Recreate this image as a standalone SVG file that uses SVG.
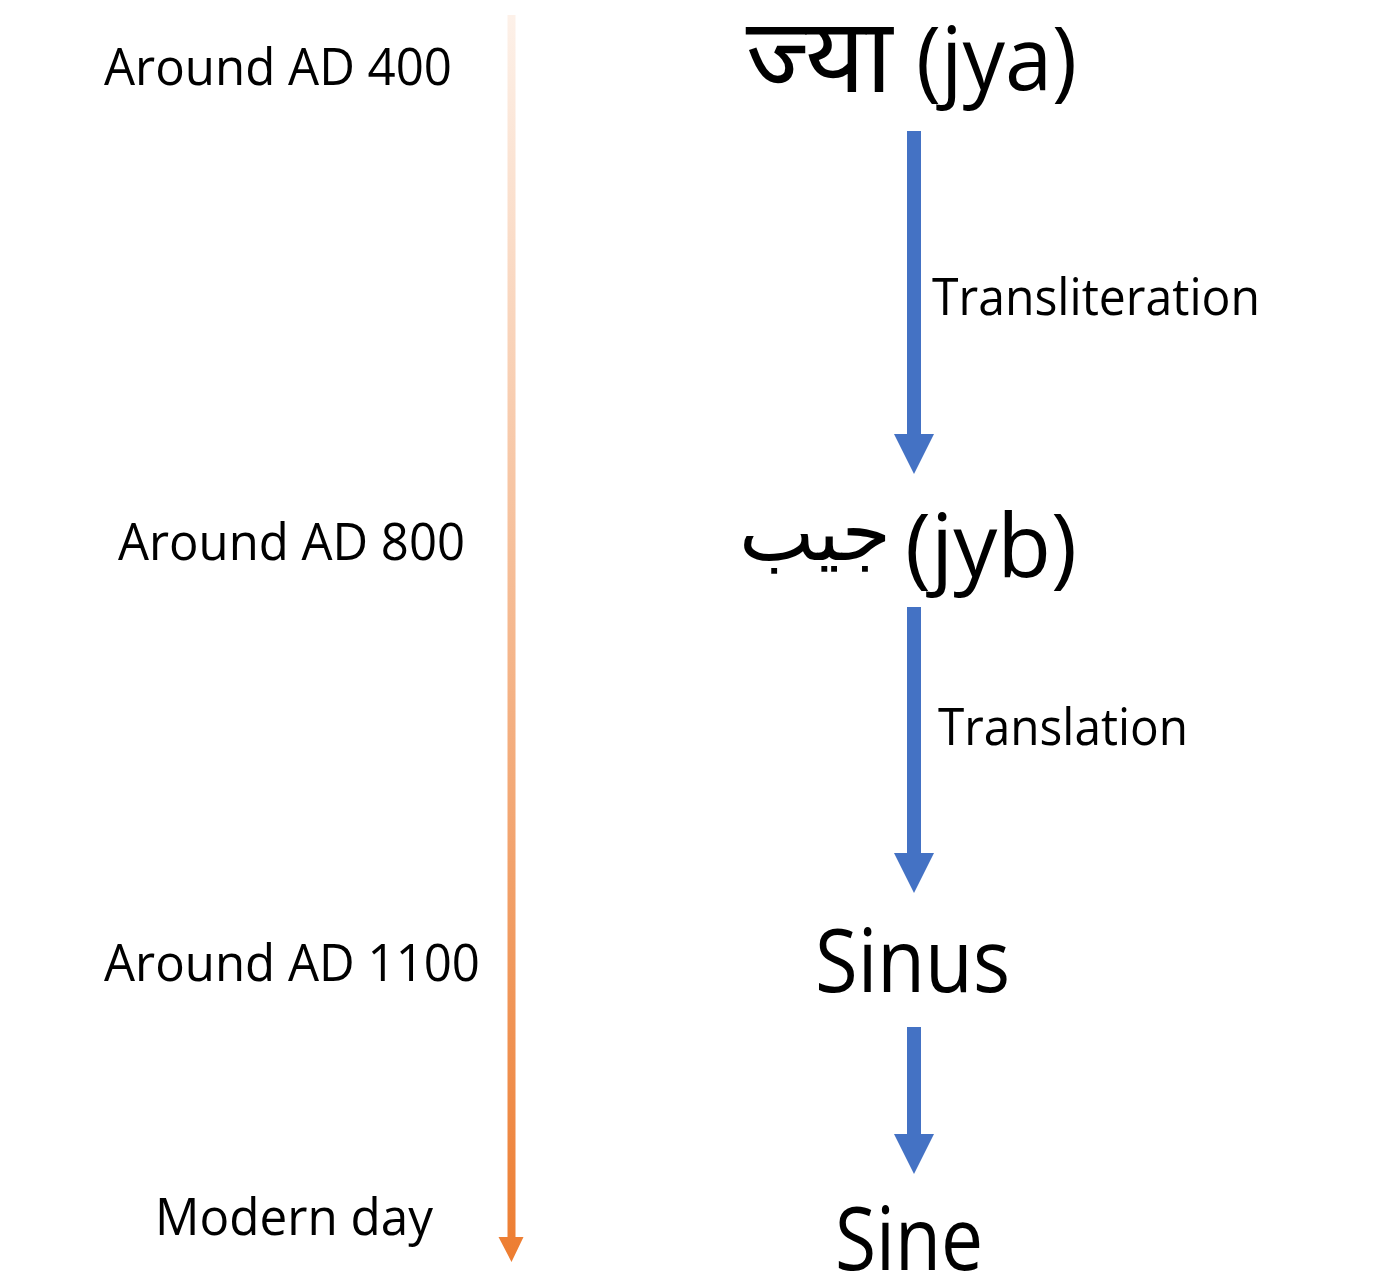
<svg xmlns="http://www.w3.org/2000/svg" width="1400" height="1278" viewBox="0 0 1400 1278">
  <style>
    .lbl { font-family: "Open Sans", "Noto Sans", "Liberation Sans", sans-serif; font-size: 52px; fill: #000; }
    .big { font-family: "Open Sans", "Noto Sans", "Liberation Sans", sans-serif; font-size: 88px; fill: #000; }
    .deva { font-family: "Noto Sans Devanagari", "Lohit Devanagari", "Nirmala UI", "Mangal", "FreeSans", "Noto Sans", sans-serif; font-size: 104px; fill: #000; }
    .arab { font-family: "DejaVu Sans", "Noto Sans Arabic", "Noto Naskh Arabic", sans-serif; font-size: 80px; fill: #000; }
    .blue { fill: #4472C4; }
  </style>
  <defs>
    <linearGradient id="timeGrad" gradientUnits="userSpaceOnUse" x1="0" y1="15" x2="0" y2="1262">
      <stop offset="0" stop-color="#FDF1E9"/>
      <stop offset="1" stop-color="#ED7D31"/>
    </linearGradient>
  </defs>
  <rect width="1400" height="1278" fill="#FFFFFF"/>

  <g id="timeline">
    <path d="M507.5,15 L515.5,15 L515.5,1237 L523.5,1237 L511.5,1262 L498.5,1237 L507.5,1237 Z" fill="url(#timeGrad)"/>
  </g>

  <g id="connectors">
    <path class="blue" d="M907,131 L921,131 L921,434 L934,434 L914,474 L894,434 L907,434 Z"/>
    <path class="blue" d="M907,607 L921,607 L921,853 L934,853 L914,893 L894,853 L907,853 Z"/>
    <path class="blue" d="M907,1027 L921,1027 L921,1134 L934,1134 L914,1174 L894,1134 L907,1134 Z"/>
    <text class="lbl" x="932" y="315" textLength="328" lengthAdjust="spacingAndGlyphs">Transliteration</text>
    <text class="lbl" x="938" y="745" textLength="250" lengthAdjust="spacingAndGlyphs">Translation</text>
  </g>

  <g id="label-400">
    <text class="lbl" x="104" y="85" textLength="348" lengthAdjust="spacingAndGlyphs">Around AD 400</text>
  </g>
  <g id="label-800">
    <text class="lbl" x="118" y="560" textLength="347" lengthAdjust="spacingAndGlyphs">Around AD 800</text>
  </g>
  <g id="label-1100">
    <text class="lbl" x="104" y="981" textLength="376" lengthAdjust="spacingAndGlyphs">Around AD 1100</text>
  </g>
  <g id="label-modern">
    <text class="lbl" x="155" y="1235" textLength="278" lengthAdjust="spacingAndGlyphs">Modern day</text>
  </g>

  <g id="node-jya">
    <text class="deva" x="819" y="92" text-anchor="middle">ज्या</text>
    <text class="big" x="916" y="90" textLength="161" lengthAdjust="spacingAndGlyphs">(jya)</text>
  </g>
  <g id="node-jyb">
    <text class="arab" x="815" y="560" text-anchor="middle">جيب</text>
    <text class="big" x="905" y="577" textLength="172" lengthAdjust="spacingAndGlyphs">(jyb)</text>
  </g>
  <g id="node-sinus">
    <text class="big" x="815" y="992" textLength="195" lengthAdjust="spacingAndGlyphs">Sinus</text>
  </g>
  <g id="node-sine">
    <text class="big" x="835" y="1270" textLength="148" lengthAdjust="spacingAndGlyphs">Sine</text>
  </g>
</svg>
